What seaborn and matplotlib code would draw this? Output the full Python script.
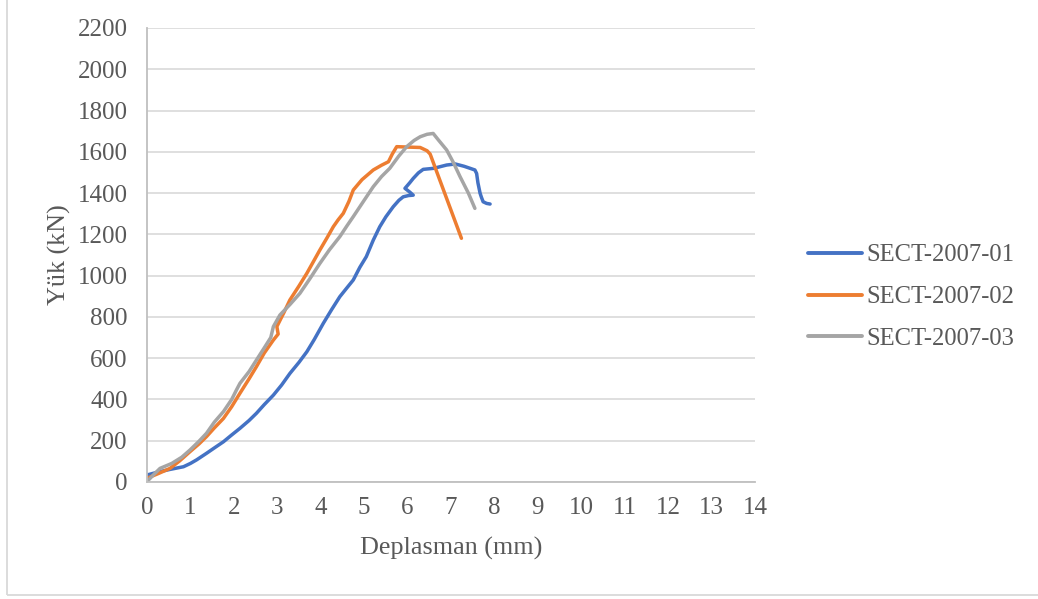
import matplotlib
matplotlib.use("Agg")
import matplotlib.pyplot as plt
import seaborn as sns
import pandas as pd
from matplotlib.patches import Rectangle

# Data
x_01 = [0.00, 0.25, 0.53, 0.84, 1.00, 1.14, 1.37, 1.55, 1.76, 1.95, 2.14, 2.35, 2.52, 2.70, 2.91,
        3.10, 3.29, 3.50, 3.68, 3.85, 4.06, 4.25, 4.44, 4.60, 4.75, 4.90, 5.05, 5.21, 5.36, 5.50,
        5.67, 5.80, 5.90, 6.02, 6.13, 6.05, 5.94, 6.05, 6.13, 6.25, 6.36, 6.60, 6.90, 7.10, 7.30,
        7.44, 7.55, 7.59, 7.62, 7.67, 7.70, 7.74, 7.82, 7.90]
y_01 = [34, 48, 61, 74, 90, 107, 139, 165, 195, 228, 260, 298, 333, 375, 421,
        470, 526, 580, 631, 690, 769, 835, 898, 940, 979, 1040, 1092, 1172, 1237, 1285,
        1334, 1365, 1382, 1388, 1390, 1405, 1423, 1450, 1471, 1498, 1515, 1520, 1536, 1541, 1530,
        1520, 1512, 1495, 1450, 1399, 1380, 1358, 1350, 1347]

x_02 = [0.00, 0.25, 0.53, 0.75, 0.99, 1.20, 1.37, 1.55, 1.76, 1.95, 2.14, 2.35, 2.52, 2.70, 2.91,
        3.02, 2.99, 3.15, 3.29, 3.50, 3.68, 3.85, 3.98, 4.15, 4.29, 4.40, 4.52, 4.65, 4.75, 4.95,
        5.21, 5.40, 5.56, 5.65, 5.75, 6.00, 6.29, 6.45, 6.52, 7.24]
y_02 = [18, 40, 66, 102, 147, 185, 220, 262, 308, 365, 430, 500, 559, 625, 688,
        717, 753, 820, 882, 950, 1011, 1075, 1124, 1185, 1237, 1270, 1302, 1360, 1415, 1465,
        1512, 1535, 1552, 1590, 1625, 1623, 1621, 1605, 1589, 1181]

x_03 = [0.00, 0.15, 0.30, 0.57, 0.80, 0.99, 1.20, 1.37, 1.55, 1.76, 1.95, 2.06, 2.14, 2.35, 2.52,
        2.70, 2.85, 2.91, 3.06, 3.30, 3.52, 3.75, 3.98, 4.20, 4.44, 4.60, 4.75, 5.00, 5.21, 5.40,
        5.59, 5.80, 5.98, 6.15, 6.29, 6.45, 6.59, 6.70, 6.90, 7.05, 7.21, 7.40, 7.55]
y_03 = [2, 35, 66, 90, 120, 155, 198, 236, 290, 341, 400, 446, 478, 535, 591,
        650, 700, 753, 809, 862, 914, 985, 1059, 1125, 1189, 1240, 1286, 1365, 1431, 1480,
        1520, 1580, 1625, 1655, 1673, 1685, 1689, 1660, 1609, 1550, 1479, 1400, 1326]

series_names = ["SECT-2007-01", "SECT-2007-02", "SECT-2007-03"]
palette = ["#4472C4", "#ED7D31", "#A5A5A5"]

x_ticks = list(range(0, 15))
y_ticks = list(range(0, 2201, 200))

frames = []
for name, xs, ys in zip(series_names, [x_01, x_02, x_03], [y_01, y_02, y_03]):
    frames.append(pd.DataFrame({"x": xs, "y": ys, "s": name}))
df = pd.concat(frames, ignore_index=True)

sns.set_theme(style="white")
plt.rcParams["font.family"] = ["Liberation Serif", "DejaVu Serif"]
text_color = "#595959"

fig = plt.figure(figsize=(10.38, 5.99), dpi=100)
ax = fig.add_axes([147 / 1038, 1 - 482 / 599, (755 - 147) / 1038, (482 - 28) / 599])

sns.lineplot(data=df, x="x", y="y", hue="s", palette=palette, sort=False,
             estimator=None, linewidth=2.5, ax=ax, legend=True)

ax.set_xlim(0, 14)
ax.set_ylim(0, 2200)
ax.set_xticks(x_ticks)
ax.set_yticks(y_ticks)
ax.tick_params(axis="both", length=0, labelsize=18, colors=text_color)
ax.tick_params(axis="x", pad=11)
ax.tick_params(axis="y", pad=14)
ax.grid(axis="y", color="#D9D9D9", linewidth=1.2)
ax.grid(axis="x", visible=False)
ax.set_axisbelow(True)
for side in ["top", "right"]:
    ax.spines[side].set_visible(False)
for side in ["left", "bottom"]:
    ax.spines[side].set_color("#BFBFBF")
    ax.spines[side].set_linewidth(1.3)

ax.set_xlabel("Deplasman (mm)", fontsize=18.8, color=text_color, labelpad=13)
ax.set_ylabel("Yük (kN)", fontsize=18.8, color=text_color, labelpad=5)

leg = ax.legend(loc="center left", bbox_to_anchor=(786 / 1038, 1 - 297 / 599),
                bbox_transform=fig.transFigure, frameon=False, fontsize=17.7,
                handlelength=2.2, handletextpad=0.16, labelspacing=0.79)
for t in leg.get_texts():
    t.set_color(text_color)
for h in leg.get_lines():
    h.set_linewidth(2.8)

# outer chart frame
fig.patches.append(Rectangle((7 / 1038, 1 - 595 / 599), 1.0, 1.0, transform=fig.transFigure,
                             fill=False, edgecolor="#D9D9D9", linewidth=1.3))

fig.savefig("out.png", dpi=100)
